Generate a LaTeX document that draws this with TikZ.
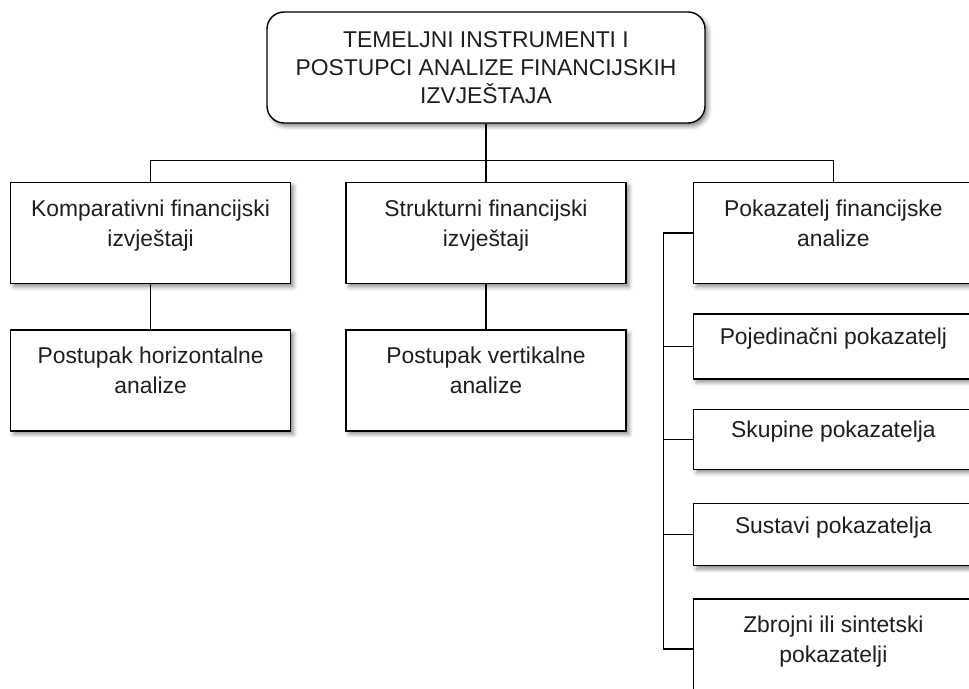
\documentclass[tikz,border=0pt]{standalone}
\usepackage{fontspec}
\setmainfont{Liberation Sans}
\usetikzlibrary{positioning, shadows.blur}
\definecolor{txtgray}{HTML}{1E1E1E}
\tikzstyle{rootbox} = [rectangle, rounded corners=0.34cm, minimum width=8.76cm, minimum height=2.22cm, align=center, draw=black, line width=0.8pt, fill=white, text=txtgray, font=\fontsize{13}{16}\selectfont, blur shadow={shadow xshift=0.06cm, shadow yshift=-0.07cm, shadow blur radius=0.08cm, shadow opacity=45}]
\tikzstyle{box} = [rectangle, minimum width=5.6cm, minimum height=2.02cm, align=center, draw=black, line width=0.8pt, fill=white, text=txtgray, font=\fontsize{13}{17}\selectfont, blur shadow={shadow xshift=0.06cm, shadow yshift=-0.07cm, shadow blur radius=0.08cm, shadow opacity=45}, execute at end node={\rule[-11pt]{0pt}{0pt}}]
\tikzstyle{link} = [line width=0.7pt, black]

\begin{document}
\begin{tikzpicture}
\useasboundingbox (0,0) rectangle (19.38,-13.78);
\clip (0,0) rectangle (19.38,-13.78);

% Top level
\node (root) [rootbox] at (9.72,-1.35) {TEMELJNI INSTRUMENTI I\\POSTUPCI ANALIZE FINANCIJSKIH\\IZVJEŠTAJA};

% Second level
\node (struk) [box, below=1.16cm of root] {Strukturni financijski\\izvještaji};
\node (komp) [box, left=1.08cm of struk] {Komparativni financijski\\izvještaji};
\node (pok) [box, right=1.32cm of struk] {Pokazatelj financijske\\analize};

% Third level
\node (hor) [box, below=0.9cm of komp] {Postupak horizontalne\\analize};
\node (vert) [box, below=0.9cm of struk] {Postupak vertikalne\\analize};

% Indicator groups
\node (poj) [box, minimum height=1.3cm, below=0.58cm of pok] {Pojedinačni pokazatelj};
\node (sku) [box, minimum height=1.2cm, below=0.58cm of poj] {Skupine pokazatelja};
\node (sus) [box, minimum height=1.24cm, below=0.66cm of sku] {Sustavi pokazatelja};
\node (zbr) [box, minimum height=2cm, below=0.64cm of sus] {Zbrojni ili sintetski\\pokazatelji};

% Connectors
\coordinate [below=0.74cm of root.south] (bar);
\coordinate [left=0.58cm of pok.west] (spine);
\draw [link] (root.south) -- (struk.north);
\draw [link] (komp.north) |- (bar) -| (pok.north);
\draw [link] (komp.south) -- (hor.north);
\draw [link] (struk.south) -- (vert.north);
\draw [link] (pok.west) -- (spine) |- (zbr.west);
\foreach \n in {poj, sku, sus}
  \draw [link] (spine |- \n.west) -- (\n.west);

\end{tikzpicture}
\end{document}
